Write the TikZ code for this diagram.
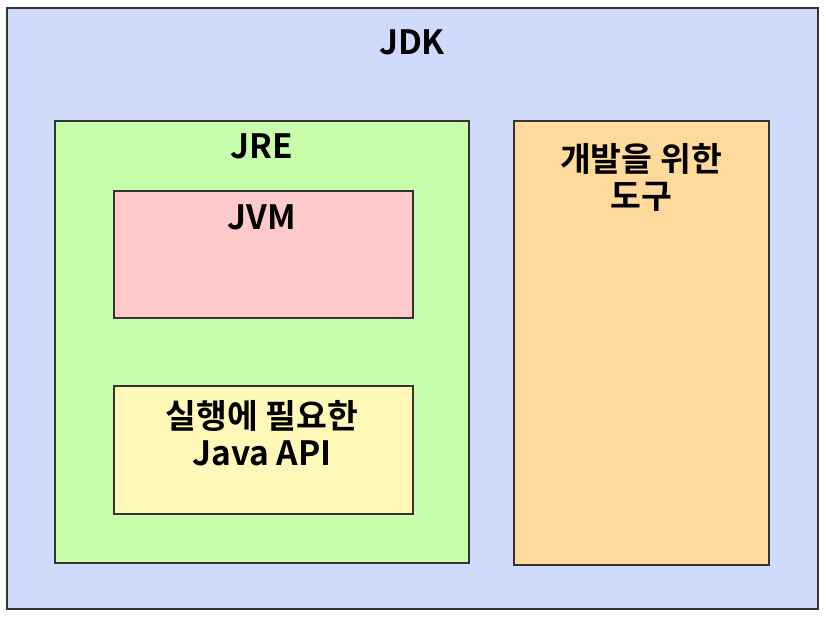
\documentclass[tikz,border=0pt]{standalone}
\usepackage{fontspec}
\setmainfont{Noto Sans CJK KR}[BoldFont={Noto Sans CJK KR Bold}]
\usetikzlibrary{positioning}
\definecolor{jdkblue}{HTML}{D0DAFB}
\definecolor{jregreen}{HTML}{C8FDAB}
\definecolor{jvmpink}{HTML}{FFCACA}
\definecolor{apiyellow}{HTML}{FFF8B8}
\definecolor{toolorange}{HTML}{FFDA9B}
\tikzset{
  layer/.style = {draw=black!80, line width=1.3pt, inner sep=0pt},
  lbl/.style   = {font=\bfseries\fontsize{33.5}{37}\selectfont, align=center, inner sep=0pt},
}
\begin{document}
\begin{tikzpicture}[x=1pt, y=-1pt]
  \useasboundingbox (0,0) rectangle (826,618);
  % boxes
  \node[layer, fill=jdkblue, minimum width=811pt, minimum height=601pt] (jdk) at (412.5,308.5) {};
  \node[layer, fill=jregreen, minimum width=414pt, minimum height=442pt] (jre) at (262,342) {};
  \node[layer, fill=toolorange, minimum width=255pt, minimum height=444pt] (tools) at (641.5,343) {};
  \node[layer, fill=jvmpink, minimum width=299pt, minimum height=127pt] (jvm) at (263.5,254.5) {};
  \node[layer, fill=apiyellow, minimum width=299pt, minimum height=128pt] (api) at (263.5,450) {};
  % labels
  \node[lbl] (jdklbl) at (412,42) {JDK};
  \node[lbl] (jrelbl) at (262,146) {JRE};
  \node[lbl] (jvmlbl) at (262,217) {JVM};
  \node[lbl] (apilbl) at (262,433) {실행에 필요한\\Java API};
  \node[lbl] (toollbl) at (641,177) {개발을 위한\\도구};
\end{tikzpicture}
\end{document}
